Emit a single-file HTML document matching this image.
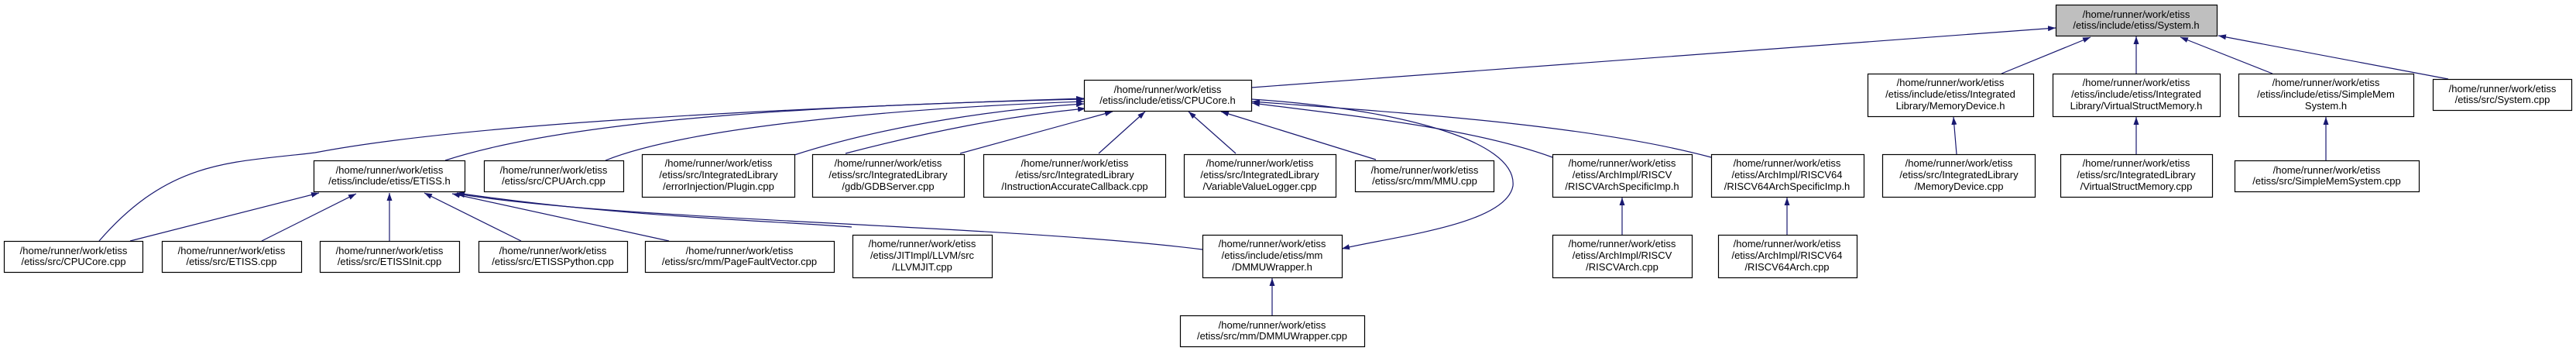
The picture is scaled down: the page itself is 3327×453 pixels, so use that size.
<!DOCTYPE html>
<html><head><meta charset="utf-8"><style>
html,body{margin:0;padding:0;background:#fff;width:3327px;height:453px;overflow:hidden}
svg text{font-family:"Liberation Sans",sans-serif;font-size:13px;fill:#000;text-anchor:middle}
</style></head><body>
<svg width="3327" height="453" viewBox="0 0 3327 453" xmlns="http://www.w3.org/2000/svg">
<defs><marker id="a" viewBox="0 0 10 10" refX="10" refY="5" markerWidth="10" markerHeight="10" markerUnits="userSpaceOnUse" orient="auto"><path d="M0,1.5 L10,5 L0,8.5 Z" fill="#191970"/></marker></defs>
<g fill="none" stroke="#191970" stroke-width="1.2" marker-end="url(#a)">
<path d="M1616,113 L2655,36"/>
<path d="M2585,95 L2700,48"/>
<path d="M2759,95 L2759,47"/>
<path d="M2935,95 L2816,48"/>
<path d="M3162,102 L2865,46"/>
<path d="M2527,199 L2523,151"/>
<path d="M2759,199 L2759,151"/>
<path d="M3004,207 L3004,151"/>
<path d="M2095,303 L2095,255"/>
<path d="M2308,303 L2308,255"/>
<path d="M1643,407 L1643,359"/>
<path d="M575,207 C750,150 1100,135 1400,128"/>
<path d="M128,311 C220,205 300,210 407,197 C600,160 1000,140 1400,127"/>
<path d="M782,207 C900,160 1200,138 1400,131"/>
<path d="M1026,200 C1150,160 1300,140 1400,134"/>
<path d="M1092,198 C1200,170 1300,150 1402,140"/>
<path d="M1240,198 L1437,144"/>
<path d="M1419,198 L1479,144"/>
<path d="M1596,198 L1535,144"/>
<path d="M1777,206 L1577,144"/>
<path d="M2005,203 C1900,165 1750,150 1617,133"/>
<path d="M2210,203 C2050,160 1800,145 1617,131"/>
<path d="M1616,128 C1800,140 1960,180 1954,240 C1945,290 1800,305 1733,321"/>
<path d="M168,311 L412,249"/>
<path d="M338,311 L460,250"/>
<path d="M503,311 L503,249"/>
<path d="M673,311 L548,249"/>
<path d="M864,311 L584,250"/>
<path d="M1100,293 C1000,285 800,280 590,249"/>
<path d="M1553,322 C1300,290 800,285 590,250"/>
</g>
<g stroke="#000" stroke-width="1.2" fill="#fff">
<rect x="2655.5" y="6.5" width="208" height="40" fill="#bfbfbf"/>
<rect x="1400.5" y="103.5" width="216" height="40"/>
<rect x="2412.5" y="95.5" width="214" height="55"/>
<rect x="2651.5" y="95.5" width="216" height="55"/>
<rect x="2891.5" y="95.5" width="226" height="55"/>
<rect x="3142.5" y="102.5" width="179" height="40"/>
<rect x="405.5" y="207.5" width="195" height="40"/>
<rect x="625.5" y="207.5" width="180" height="40"/>
<rect x="829.5" y="199.5" width="197" height="55"/>
<rect x="1049.5" y="199.5" width="196" height="55"/>
<rect x="1270.5" y="199.5" width="235" height="55"/>
<rect x="1529.5" y="199.5" width="196" height="55"/>
<rect x="1750.5" y="207.5" width="179" height="40"/>
<rect x="2005.5" y="199.5" width="180" height="55"/>
<rect x="2210.5" y="199.5" width="197" height="55"/>
<rect x="2431.5" y="199.5" width="197" height="55"/>
<rect x="2661.5" y="199.5" width="196" height="55"/>
<rect x="2886.5" y="207.5" width="238" height="40"/>
<rect x="5.5" y="311.5" width="179" height="40"/>
<rect x="209.5" y="311.5" width="180" height="40"/>
<rect x="413.5" y="311.5" width="180" height="40"/>
<rect x="618.5" y="311.5" width="192" height="40"/>
<rect x="833.5" y="311.5" width="244" height="40"/>
<rect x="1101.5" y="303.5" width="180" height="55"/>
<rect x="1553.5" y="303.5" width="180" height="55"/>
<rect x="2005.5" y="303.5" width="180" height="55"/>
<rect x="2219.5" y="303.5" width="179" height="55"/>
<rect x="1524.5" y="407.5" width="238" height="40"/>
</g>
<g>
<text x="2759" y="23">/home/runner/work/etiss</text><text x="2759" y="37">/etiss/include/etiss/System.h</text>
<text x="1508" y="120">/home/runner/work/etiss</text><text x="1508" y="134">/etiss/include/etiss/CPUCore.h</text>
<text x="2519" y="111">/home/runner/work/etiss</text><text x="2519" y="126">/etiss/include/etiss/Integrated</text><text x="2519" y="141">Library/MemoryDevice.h</text>
<text x="2759" y="111">/home/runner/work/etiss</text><text x="2759" y="126">/etiss/include/etiss/Integrated</text><text x="2759" y="141">Library/VirtualStructMemory.h</text>
<text x="3004" y="111">/home/runner/work/etiss</text><text x="3004" y="126">/etiss/include/etiss/SimpleMem</text><text x="3004" y="141">System.h</text>
<text x="3232" y="119">/home/runner/work/etiss</text><text x="3232" y="133">/etiss/src/System.cpp</text>
<text x="503" y="224">/home/runner/work/etiss</text><text x="503" y="238">/etiss/include/etiss/ETISS.h</text>
<text x="715" y="224">/home/runner/work/etiss</text><text x="715" y="238">/etiss/src/CPUArch.cpp</text>
<text x="928" y="215">/home/runner/work/etiss</text><text x="928" y="230">/etiss/src/IntegratedLibrary</text><text x="928" y="245">/errorInjection/Plugin.cpp</text>
<text x="1147" y="215">/home/runner/work/etiss</text><text x="1147" y="230">/etiss/src/IntegratedLibrary</text><text x="1147" y="245">/gdb/GDBServer.cpp</text>
<text x="1388" y="215">/home/runner/work/etiss</text><text x="1388" y="230">/etiss/src/IntegratedLibrary</text><text x="1388" y="245">/InstructionAccurateCallback.cpp</text>
<text x="1627" y="215">/home/runner/work/etiss</text><text x="1627" y="230">/etiss/src/IntegratedLibrary</text><text x="1627" y="245">/VariableValueLogger.cpp</text>
<text x="1840" y="224">/home/runner/work/etiss</text><text x="1840" y="238">/etiss/src/mm/MMU.cpp</text>
<text x="2095" y="215">/home/runner/work/etiss</text><text x="2095" y="230">/etiss/ArchImpl/RISCV</text><text x="2095" y="245">/RISCVArchSpecificImp.h</text>
<text x="2308" y="215">/home/runner/work/etiss</text><text x="2308" y="230">/etiss/ArchImpl/RISCV64</text><text x="2308" y="245">/RISCV64ArchSpecificImp.h</text>
<text x="2530" y="215">/home/runner/work/etiss</text><text x="2530" y="230">/etiss/src/IntegratedLibrary</text><text x="2530" y="245">/MemoryDevice.cpp</text>
<text x="2759" y="215">/home/runner/work/etiss</text><text x="2759" y="230">/etiss/src/IntegratedLibrary</text><text x="2759" y="245">/VirtualStructMemory.cpp</text>
<text x="3005" y="224">/home/runner/work/etiss</text><text x="3005" y="238">/etiss/src/SimpleMemSystem.cpp</text>
<text x="95" y="328">/home/runner/work/etiss</text><text x="95" y="342">/etiss/src/CPUCore.cpp</text>
<text x="299" y="328">/home/runner/work/etiss</text><text x="299" y="342">/etiss/src/ETISS.cpp</text>
<text x="503" y="328">/home/runner/work/etiss</text><text x="503" y="342">/etiss/src/ETISSInit.cpp</text>
<text x="714" y="328">/home/runner/work/etiss</text><text x="714" y="342">/etiss/src/ETISSPython.cpp</text>
<text x="955" y="328">/home/runner/work/etiss</text><text x="955" y="342">/etiss/src/mm/PageFaultVector.cpp</text>
<text x="1191" y="319">/home/runner/work/etiss</text><text x="1191" y="334">/etiss/JITImpl/LLVM/src</text><text x="1191" y="349">/LLVMJIT.cpp</text>
<text x="1643" y="319">/home/runner/work/etiss</text><text x="1643" y="334">/etiss/include/etiss/mm</text><text x="1643" y="349">/DMMUWrapper.h</text>
<text x="2095" y="319">/home/runner/work/etiss</text><text x="2095" y="334">/etiss/ArchImpl/RISCV</text><text x="2095" y="349">/RISCVArch.cpp</text>
<text x="2308" y="319">/home/runner/work/etiss</text><text x="2308" y="334">/etiss/ArchImpl/RISCV64</text><text x="2308" y="349">/RISCV64Arch.cpp</text>
<text x="1643" y="424">/home/runner/work/etiss</text><text x="1643" y="438">/etiss/src/mm/DMMUWrapper.cpp</text>
</g>
</svg>
</body></html>
